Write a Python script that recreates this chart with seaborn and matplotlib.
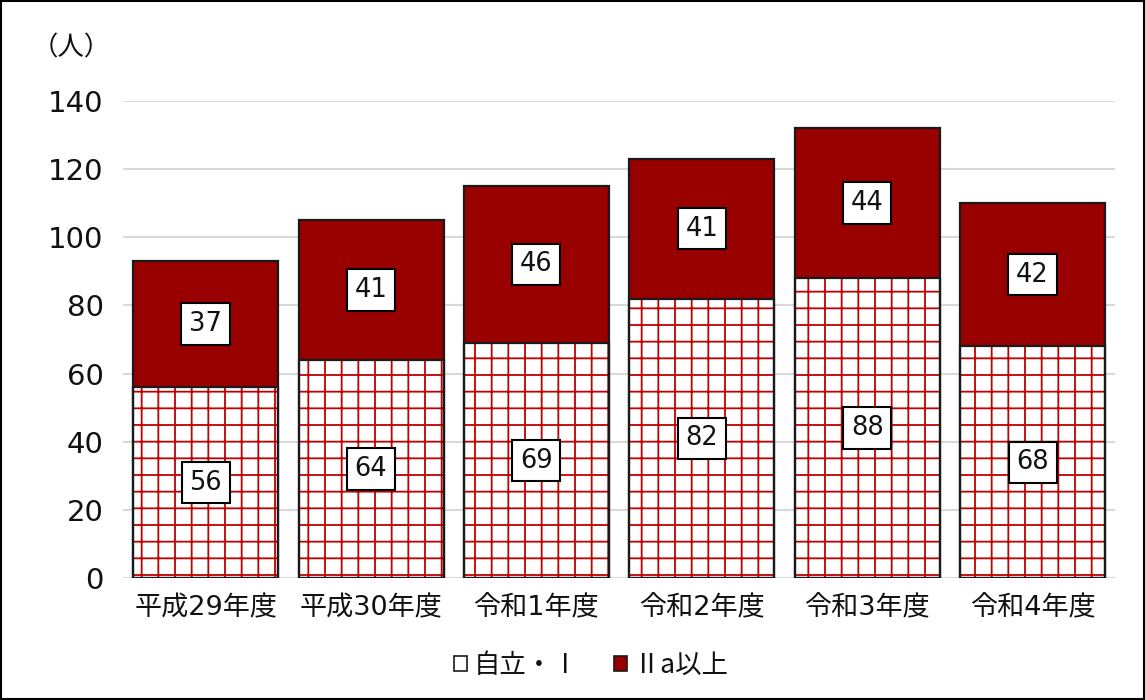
import matplotlib
matplotlib.use("Agg")
import matplotlib.pyplot as plt
from matplotlib.patches import Patch, Rectangle
import seaborn as sns
import pandas as pd

categories = ["平成29年度", "平成30年度", "令和1年度", "令和2年度", "令和3年度", "令和4年度"]
jiritsu = [56, 64, 69, 82, 88, 68]      # 自立・Ⅰ
ii_a = [37, 41, 46, 41, 44, 42]          # Ⅱa以上
series_names = ["自立・Ⅰ", "Ⅱa以上"]
y_ticks = [0, 20, 40, 60, 80, 100, 120, 140]

sns.set_theme(style="white")
plt.rcParams['font.family'] = ['DejaVu Sans', 'Noto Sans CJK JP']
plt.rcParams['hatch.linewidth'] = 1.3

DARK = "#990000"
HATCH = "#C00000"
TXT = "#111111"

totals = [a + b for a, b in zip(jiritsu, ii_a)]
df = pd.DataFrame({"cat": categories, "low": jiritsu, "high": ii_a, "total": totals})

fig = plt.figure(figsize=(11.45, 7.0), dpi=100)
ax = fig.add_axes([0.1074, 0.174, 0.8666, 0.682])

W = 0.877
# top segment (full total height, dark red)
sns.barplot(data=df, x="cat", y="total", color=DARK, saturation=1, width=W,
            linewidth=0, ax=ax, zorder=2)
# lower hatched segment
n0 = len(ax.patches)
sns.barplot(data=df, x="cat", y="low", color="white", saturation=1, width=W,
            linewidth=0, ax=ax, zorder=3)
for p in ax.patches[n0:]:
    p.set_facecolor("white")
    p.set_edgecolor(HATCH)
    p.set_hatch("+")
    p.set_linewidth(0)
# outlines
for col in ["total", "low"]:
    n1 = len(ax.patches)
    sns.barplot(data=df, x="cat", y=col, color="white", saturation=1, width=W,
                ax=ax, zorder=4)
    for p in ax.patches[n1:]:
        p.set_facecolor("none")
        p.set_edgecolor("#1a1a1a")
        p.set_linewidth(1.6)

# value labels
bbox = dict(boxstyle="square,pad=0.3", fc="white", ec="black", lw=1.5)
for i, (lo, hi) in enumerate(zip(jiritsu, ii_a)):
    ax.text(i, lo / 2, str(lo), ha="center", va="center", fontsize=18.5,
            bbox=bbox, zorder=6, color=TXT)
    ax.text(i, lo + hi / 2, str(hi), ha="center", va="center", fontsize=18.5,
            bbox=bbox, zorder=6, color=TXT)

ax.set_ylim(0, 140)
ax.set_xlim(-0.5, len(categories) - 0.5)
ax.set_yticks(y_ticks)
ax.set_yticklabels([str(t) for t in y_ticks])
ax.yaxis.grid(True, color="#D9D9D9", linewidth=1.5, zorder=0)
ax.set_axisbelow(True)
for s in ax.spines.values():
    s.set_visible(False)
ax.axhline(0, color="#D9D9D9", linewidth=2, zorder=1)
ax.tick_params(axis="y", labelsize=21, pad=14, length=0, colors=TXT)
ax.tick_params(axis="x", labelsize=19.5, pad=12, length=0, colors=TXT)
ax.set_xlabel("")
ax.set_ylabel("")

fig.text(0.028, 0.932, "（人）", fontsize=19, ha="left", va="center", color=TXT,
         family=['Noto Sans CJK JP'])

handles = [Patch(facecolor="white", edgecolor="#1a1a1a", linewidth=1.2, label=series_names[0]),
           Patch(facecolor=DARK, edgecolor="#1a1a1a", linewidth=1.2, label=series_names[1])]
leg = fig.legend(handles=handles, loc="center", bbox_to_anchor=(0.516, 0.049), ncol=2,
                 frameon=False, handlelength=0.5, handleheight=0.5,
                 handletextpad=0.25, columnspacing=1.3, labelcolor=TXT,
                 prop={'family': ['Noto Sans CJK JP'], 'size': 19})

fig.add_artist(Rectangle((0.001, 0.001), 0.998, 0.997, transform=fig.transFigure,
                         fill=False, edgecolor="black", linewidth=1.5))

fig.savefig("out.png", dpi=100)
